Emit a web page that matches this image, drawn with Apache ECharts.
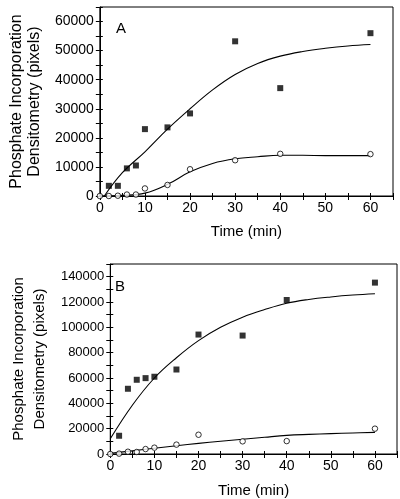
<!DOCTYPE html>
<html>
<head>
<meta charset="utf-8">
<script src="https://cdn.jsdelivr.net/npm/echarts@6/dist/echarts.min.js"></script>
<style>
  html, body { margin: 0; padding: 0; background: #fff; }
  #chart { width: 400px; height: 499px; }
</style>
</head>
<body>
<div id="chart"></div>
<script>
// time points (min)
var timesA = [0, 2, 4, 6, 8, 10, 15, 20, 30, 40, 60];
var timesFilled = [2, 4, 6, 8, 10, 15, 20, 30, 40, 60];

// panel A
var aFilled = [3500, 3500, 9500, 10500, 23000, 23600, 28400, 53200, 37100, 56000];
var aOpen = [0, 0, 100, 500, 500, 2600, 3800, 9200, 12300, 14500, 14400];
var aFitFilledX = [1, 5, 10, 15, 20, 25, 30, 35, 40, 45, 50, 55, 60];
var aFitFilledY = [0, 8000, 15200, 23000, 30000, 36500, 41800, 45600, 48100, 49700, 50800, 51600, 52100];
var fitX = [0, 5, 10, 15, 20, 25, 30, 35, 40, 45, 50, 55, 60];
var aFitOpenY = [0, 200, 1000, 4000, 8300, 11200, 12800, 13500, 14000, 14000, 13900, 13900, 13900];

// panel B
var bFilled = [14400, 51500, 58600, 59900, 61000, 66700, 94300, 93500, 121600, 135300];
var bOpen = [0, 300, 1800, 1600, 3900, 5000, 7400, 15200, 10000, 10200, 20000];
var bFitFilledY = [12000, 38500, 60000, 76000, 89500, 100000, 108000, 114000, 119000, 122000, 124000, 125500, 126500];
var bFitOpenY = [500, 2500, 4500, 6500, 8400, 10100, 11600, 13200, 14700, 15500, 16100, 16600, 17100];

function pairs(xs, ys) {
  return xs.map(function (x, i) { return [x, ys[i]]; });
}

var FONT = 'Liberation Sans';
var chart = echarts.init(document.getElementById('chart'));

function xAxes(gridIndex, gap) {
  return [{
    type: 'value', gridIndex: gridIndex, min: 0, max: 65, interval: 5,
    position: 'bottom',
    name: 'Time (min)', nameLocation: 'middle', nameGap: gap,
    nameTextStyle: { fontFamily: FONT, fontSize: 15, color: '#000' },
    axisLine: { lineStyle: { color: '#000', width: 1 } },
    axisTick: { show: true, inside: false, length: 4, lineStyle: { color: '#000' } },
    axisLabel: {
      fontFamily: FONT, fontSize: 14, color: '#000', margin: 5,
      formatter: function (v) { return (v % 10 === 0 && v <= 60) ? v : ''; }
    },
    splitLine: { show: false }
  }, {
    type: 'value', gridIndex: gridIndex, min: 0, max: 65, interval: 5,
    position: 'bottom',
    axisLine: { show: false },
    axisTick: { show: true, inside: true, length: 3, lineStyle: { color: '#000' } },
    axisLabel: { show: false },
    splitLine: { show: false }
  }];
}

function yAxes(gridIndex, max, step, labelStep, fontSize, gap, lh, nameSize) {
  return [{
    type: 'value', gridIndex: gridIndex, min: 0, max: max, interval: step,
    position: 'left',
    name: 'Phosphate Incorporation\nDensitometry (pixels)',
    nameLocation: 'middle', nameRotate: 90, nameGap: gap,
    nameTextStyle: { fontFamily: FONT, fontSize: nameSize, color: '#000', lineHeight: lh },
    axisLine: { lineStyle: { color: '#000', width: 1 } },
    axisTick: { show: true, inside: false, length: 4, lineStyle: { color: '#000' } },
    axisLabel: {
      fontFamily: FONT, fontSize: fontSize, color: '#000', margin: 6,
      formatter: function (v) { return v % labelStep === 0 ? v : ''; }
    },
    splitLine: { show: false }
  }, {
    type: 'value', gridIndex: gridIndex, min: 0, max: max, interval: step,
    position: 'left',
    axisLine: { show: false },
    axisTick: { show: true, inside: true, length: 3, lineStyle: { color: '#000' } },
    axisLabel: { show: false },
    splitLine: { show: false }
  }];
}

var curveStyle = { color: '#000', width: 1.1 };
function fit(xi, yi, data) {
  return {
    type: 'line', xAxisIndex: xi, yAxisIndex: yi, data: data,
    smooth: 0.4, showSymbol: false, silent: true,
    lineStyle: curveStyle, z: 2
  };
}
function squares(xi, yi, data) {
  return {
    type: 'scatter', xAxisIndex: xi, yAxisIndex: yi, data: data,
    symbol: 'rect', symbolSize: 6, itemStyle: { color: '#000' }, z: 3
  };
}
function circles(xi, yi, data) {
  return {
    type: 'scatter', xAxisIndex: xi, yAxisIndex: yi, data: data,
    symbol: 'circle', symbolSize: 5.5,
    itemStyle: { color: '#fff', borderColor: '#000', borderWidth: 1 }, z: 4
  };
}

var option = {
  backgroundColor: '#fff',
  animation: false,
  title: [
    { text: 'A', left: 111, top: 16, textStyle: { fontFamily: FONT, fontSize: 15, fontWeight: 'normal', color: '#000' } },
    { text: 'B', left: 110, top: 274, textStyle: { fontFamily: FONT, fontSize: 15, fontWeight: 'normal', color: '#000' } }
  ],
  grid: [
    { left: 94, right: 7, top: 7, bottom: 303, show: true, borderColor: '#000', borderWidth: 1, backgroundColor: 'transparent' },
    { left: 90, right: 3, top: 264, bottom: 45, show: true, borderColor: '#000', borderWidth: 1, backgroundColor: 'transparent' }
  ],
  xAxis: xAxes(0, 28).concat(xAxes(1, 29)),
  yAxis: yAxes(0, 65000, 5000, 10000, 14, 52, 18, 16).concat(yAxes(1, 150000, 10000, 20000, 13, 50, 21, 15)),
  series: [
    fit(0, 0, pairs(aFitFilledX, aFitFilledY)),
    fit(0, 0, pairs(fitX, aFitOpenY)),
    squares(0, 0, pairs(timesFilled, aFilled)),
    circles(0, 0, pairs(timesA, aOpen)),
    fit(2, 2, pairs(fitX, bFitFilledY)),
    fit(2, 2, pairs(fitX, bFitOpenY)),
    squares(2, 2, pairs(timesFilled, bFilled)),
    circles(2, 2, pairs(timesA, bOpen))
  ]
};
chart.setOption(option);
</script>
</body>
</html>
